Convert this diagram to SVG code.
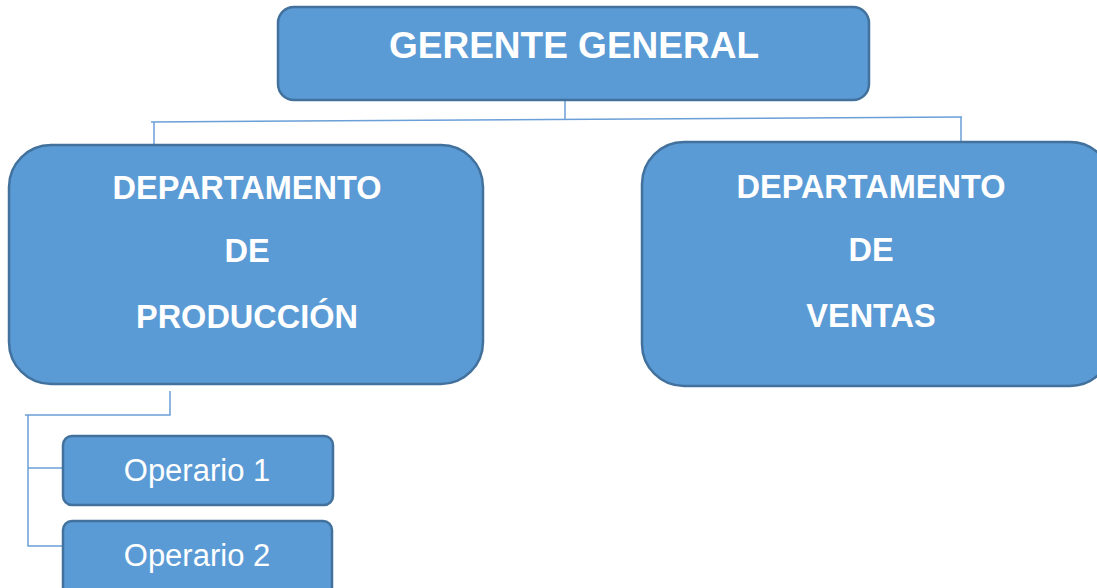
<svg xmlns="http://www.w3.org/2000/svg" width="1097" height="588" viewBox="0 0 1097 588">
<style>
.box{fill:#5B9BD5;stroke:#41719C;stroke-width:2.5}
.ln{stroke:#6A9FD8;stroke-width:1.5;fill:none}
.t{font-family:"Liberation Sans",Arial,sans-serif;fill:#fff;text-anchor:middle}
.b{font-weight:bold}
</style>
<rect width="1097" height="588" fill="#fff"/>
<g id="connectors">
<path class="ln" d="M565,100 V120"/>
<path class="ln" d="M151,122 L962,117"/>
<path class="ln" d="M154,122 V145"/>
<path class="ln" d="M961,117 V142"/>
<path class="ln" d="M170,391 V415 H25"/>
<path class="ln" d="M28,415 V546 H63"/>
<path class="ln" d="M28,468 H63"/>
</g>
<g id="gerente">
<rect class="box" x="278" y="7" width="591" height="93" rx="16"/>
<text class="t b" x="574" y="58" font-size="37">GERENTE GENERAL</text>
</g>
<g id="produccion">
<rect class="box" x="9" y="145" width="474" height="239" rx="42"/>
<text class="t b" x="247" y="199" font-size="32.5">DEPARTAMENTO</text>
<text class="t b" x="247" y="262" font-size="32.5">DE</text>
<text class="t b" x="247" y="328" font-size="32.5">PRODUCCIÓN</text>
</g>
<g id="ventas">
<rect class="box" x="642" y="142" width="470" height="244" rx="42"/>
<text class="t b" x="871" y="198" font-size="32.5">DEPARTAMENTO</text>
<text class="t b" x="871" y="261" font-size="32.5">DE</text>
<text class="t b" x="871" y="327" font-size="32.5">VENTAS</text>
</g>
<g id="operario1">
<rect class="box" x="63" y="436" width="270" height="69" rx="9"/>
<text class="t" x="197" y="481" font-size="31">Operario 1</text>
</g>
<g id="operario2">
<rect class="box" x="63" y="521" width="269" height="80" rx="9"/>
<text class="t" x="197" y="566" font-size="31">Operario 2</text>
</g>
</svg>
